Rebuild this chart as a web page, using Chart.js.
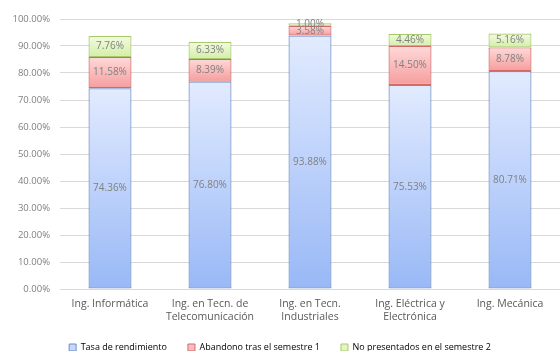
<!DOCTYPE html>
<html>
<head>
<meta charset="utf-8">
<script src="https://cdn.jsdelivr.net/npm/chart.js@4/dist/chart.umd.min.js"></script>
<style>
  html, body { margin: 0; padding: 0; background: #fff; }
  #wrap { width: 560px; height: 351px; }
</style>
</head>
<body>
<div id="wrap"><canvas id="grafico"></canvas></div>
<script>
// datos del grafico
var titulaciones = [
    'Ing. Informática',
    ['Ing. en Tecn. de', 'Telecomunicación'],
    ['Ing. en Tecn.', 'Industriales'],
    ['Ing. Eléctrica y', 'Electrónica'],
    'Ing. Mecánica'
];
var tasaRendimiento = [74.36, 76.80, 93.88, 75.53, 80.71];
var abandonoSem1 = [11.58, 8.39, 3.58, 14.50, 8.78];
var noPresentadosSem2 = [7.76, 6.33, 1.00, 4.46, 5.16];
var ticksY = [0, 10, 20, 30, 40, 50, 60, 70, 80, 90, 100];

var series = [
    { label: 'Tasa de rendimiento', data: tasaRendimiento, top: '#e2ebff', bottom: '#98b8f6', border: '#7090c8', solid: '#c5d7fb' },
    { label: 'Abandono tras el semestre 1', data: abandonoSem1, top: '#ffd9d9', bottom: '#f59d9d', border: '#d36868', solid: '#fbc0c0' },
    { label: 'No presentados en el semestre 2', data: noPresentadosSem2, top: '#f3fbe2', bottom: '#d3eea6', border: '#a8c86c', solid: '#e3f5c6' }
];

// relleno degradado por segmento (como en Excel)
function relleno(ctx) {
    var s = series[ctx.datasetIndex];
    var chart = ctx.chart;
    var y = chart.scales.y;
    if (ctx.type !== 'data' || !y || !isFinite(y.top)) return s.solid;
    var base = 0;
    for (var d = 0; d < ctx.datasetIndex; d++) base += series[d].data[ctx.dataIndex];
    var y0 = y.getPixelForValue(base + s.data[ctx.dataIndex]);
    var y1 = y.getPixelForValue(base);
    if (!isFinite(y0) || !isFinite(y1) || y0 === y1) return s.solid;
    var g = chart.ctx.createLinearGradient(0, y0, 0, y1);
    g.addColorStop(0, s.top);
    g.addColorStop(1, s.bottom);
    return g;
}

// etiquetas de valor dentro de cada segmento
var etiquetas = {
    id: 'etiquetas',
    afterDatasetsDraw: function (chart) {
        var c = chart.ctx;
        c.save();
        c.font = '10px "Open Sans", sans-serif';
        c.fillStyle = '#808080';
        c.textAlign = 'center';
        c.textBaseline = 'middle';
        chart.data.datasets.forEach(function (ds, i) {
            var meta = chart.getDatasetMeta(i);
            meta.data.forEach(function (el, j) {
                c.fillText(ds.data[j].toFixed(2) + '%', el.x, (el.y + el.base) / 2);
            });
        });
        c.restore();
    }
};

var datasets = series.map(function (s) {
    return {
        label: s.label,
        data: s.data,
        backgroundColor: relleno,
        borderColor: s.border,
        borderWidth: 1.2,
        borderSkipped: false,
        categoryPercentage: 1,
        barPercentage: 0.43
    };
});

new Chart(document.getElementById('grafico'), {
    type: 'bar',
    data: { labels: titulaciones, datasets: datasets },
    plugins: [etiquetas],
    options: {
        responsive: true,
        maintainAspectRatio: false,
        animation: false,
        layout: { padding: { top: 19, right: 0, left: 0, bottom: -11 } },
        scales: {
            x: {
                stacked: true,
                grid: { display: false },
                border: { display: false },
                ticks: { color: '#595959', font: { family: '"Open Sans", sans-serif', size: 10.5, lineHeight: 1.3 }, maxRotation: 0, autoSkip: false, padding: 0 },
                afterFit: function (scale) {
                    scale.height = 33;
                    // dejar que la segunda linea de la etiqueta salga del area del eje
                    scale._computeLabelArea = function () { return undefined; };
                }
            },
            y: {
                stacked: true,
                min: 0,
                max: 100,
                afterBuildTicks: function (scale) {
                    scale.ticks = ticksY.map(function (v) { return { value: v }; });
                },
                ticks: {
                    color: '#7f7f7f',
                    font: { family: '"Open Sans", sans-serif', size: 9.5 },
                    padding: 10,
                    callback: function (v) { return v.toFixed(2) + '%'; }
                },
                grid: { color: '#d9d9d9', lineWidth: 1, drawTicks: false },
                border: { display: false },
                afterFit: function (scale) { scale.width = 60; }
            }
        },
        plugins: {
            tooltip: { enabled: false },
            legend: {
                position: 'bottom',
                labels: {
                    boxWidth: 7,
                    boxHeight: 7,
                    padding: 21,
                    color: '#595959',
                    font: { family: '"Open Sans", sans-serif', size: 9 },
                    generateLabels: function () {
                        return series.map(function (s, i) {
                            return { text: s.label, fillStyle: s.solid, strokeStyle: s.border, lineWidth: 1, datasetIndex: i };
                        });
                    }
                }
            }
        }
    }
});
</script>
</body>
</html>
